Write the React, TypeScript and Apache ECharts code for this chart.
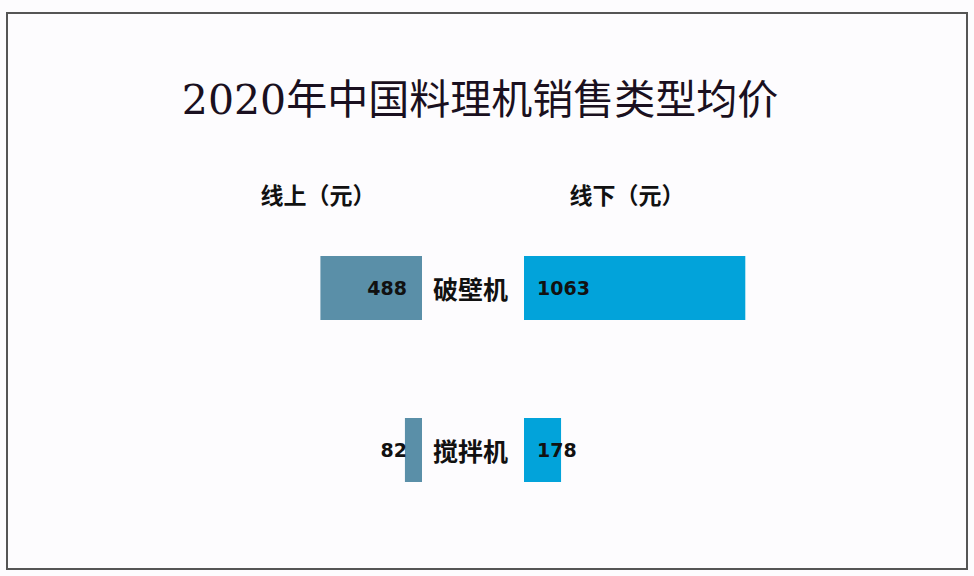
import { useEffect, useRef } from "react";
import * as echarts from "echarts";

const categories = ["破壁机", "搅拌机"];
const onlineValues = [488, 82];
const offlineValues = [1063, 178];
const titleText = "2020年中国料理机销售类型均价";
const onlineHeader = "线上（元）";
const offlineHeader = "线下（元）";

const MAX = 1100;

export default function App() {
  const ref = useRef<HTMLDivElement>(null);

  useEffect(() => {
    const el = ref.current;
    if (!el) return;
    const chart = echarts.init(el, null, { renderer: "svg" });

    const labelFont = {
      color: "#111",
      fontWeight: "bold" as const,
      fontSize: 19,
      fontFamily: "DejaVu Sans",
    };

    chart.setOption({
      animation: false,
      backgroundColor: "#fdfcfe",
      grid: [
        { left: 193, width: 229, top: 207, height: 324 },
        { left: 524, width: 229, top: 207, height: 324 },
      ],
      xAxis: [
        { gridIndex: 0, type: "value", max: MAX, inverse: true, show: false },
        { gridIndex: 1, type: "value", max: MAX, show: false },
      ],
      yAxis: [
        {
          gridIndex: 0,
          type: "category",
          data: categories,
          inverse: true,
          position: "right",
          axisLine: { show: false },
          axisTick: { show: false },
          axisLabel: { show: false },
        },
        {
          gridIndex: 1,
          type: "category",
          data: categories,
          inverse: true,
          position: "left",
          axisLine: { show: false },
          axisTick: { show: false },
          axisLabel: {
            margin: 16,
            color: "#111",
            fontSize: 25,
            fontWeight: "bold",
            fontFamily: "Noto Sans CJK SC",
            padding: [0, 0, 3, 0],
          },
        },
      ],
      series: [
        {
          type: "bar",
          xAxisIndex: 0,
          yAxisIndex: 0,
          data: onlineValues,
          barWidth: 64,
          itemStyle: { color: "#5a8fa8" },
          label: { show: true, position: "insideRight", distance: 15, ...labelFont },
        },
        {
          type: "bar",
          xAxisIndex: 1,
          yAxisIndex: 1,
          data: offlineValues,
          barWidth: 64,
          itemStyle: { color: "#02a3da" },
          label: { show: true, position: "insideLeft", distance: 13, ...labelFont },
        },
      ],
      graphic: [
        {
          type: "rect",
          shape: { x: 7, y: 13, width: 960, height: 556 },
          style: { fill: "none", stroke: "#555", lineWidth: 2 },
        },
        {
          type: "text",
          x: 480,
          y: 100,
          style: {
            text: titleText,
            textAlign: "center",
            textVerticalAlign: "middle",
            fontSize: 41,
            fontFamily: "DejaVu Serif, Noto Sans CJK SC",
            fill: "#1a1020",
          },
        },
        {
          type: "text",
          x: 318,
          y: 194,
          style: {
            text: onlineHeader,
            textAlign: "center",
            textVerticalAlign: "middle",
            fontSize: 23,
            fontWeight: "bold",
            fontFamily: "Noto Sans CJK SC",
            fill: "#111",
          },
        },
        {
          type: "text",
          x: 627,
          y: 194,
          style: {
            text: offlineHeader,
            textAlign: "center",
            textVerticalAlign: "middle",
            fontSize: 23,
            fontWeight: "bold",
            fontFamily: "Noto Sans CJK SC",
            fill: "#111",
          },
        },
      ],
    });

    return () => chart.dispose();
  }, []);

  return (
    <div
      ref={ref}
      style={{ position: "fixed", left: 0, top: 0, width: 974, height: 576 }}
    />
  );
}
